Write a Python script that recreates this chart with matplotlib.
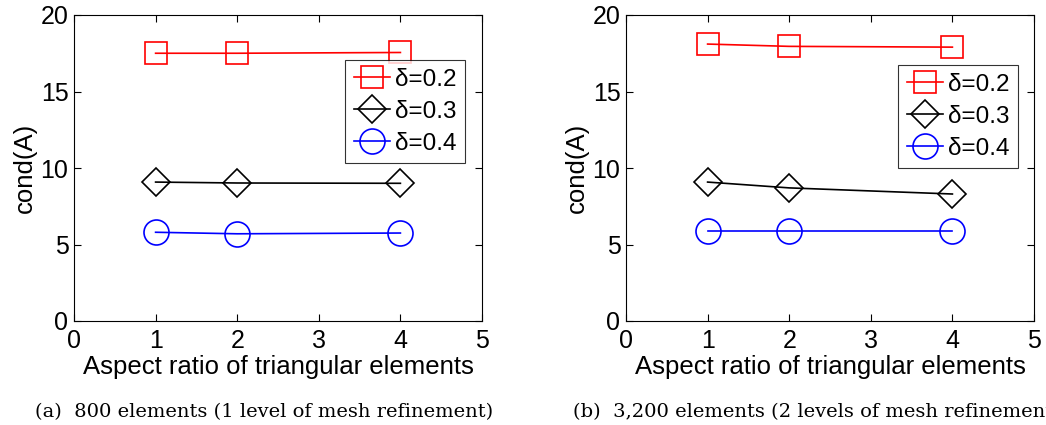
import numpy as np
import matplotlib.pyplot as plt

# data
aspect = [1, 2, 4]
labels = ['δ=0.2', 'δ=0.3', 'δ=0.4']

cond_a = {
    'δ=0.2': [17.5, 17.5, 17.55],
    'δ=0.3': [9.08, 9.02, 9.0],
    'δ=0.4': [5.8, 5.7, 5.75],
}
cond_b = {
    'δ=0.2': [18.1, 17.95, 17.9],
    'δ=0.3': [9.08, 8.7, 8.3],
    'δ=0.4': [5.9, 5.9, 5.9],
}
captions = ['(a)  800 elements (1 level of mesh refinement)',
            '(b)  3,200 elements (2 levels of mesh refinement)']

styles = {
    'δ=0.2': dict(color='#ff0000', marker='s', ms=16),
    'δ=0.3': dict(color='black', marker='D', ms=14),
    'δ=0.4': dict(color='#0000ff', marker='o', ms=18),
}

plt.rcParams['font.family'] = ['Liberation Sans', 'DejaVu Sans']

fig = plt.figure(figsize=(10.46, 4.25), dpi=100)
W, H = 1046, 425

def add_panel(left_px, data, legend_box, caption, cap_x):
    ax = fig.add_axes([left_px / W, 1 - 321 / H, 408 / W, 306 / H])
    for lab in labels:
        st = styles[lab]
        ax.plot(aspect, data[lab], color=st['color'], marker=st['marker'],
                ms=st['ms'], mfc='none', mec=st['color'], mew=1.2, lw=1.2,
                label=lab)
    ax.set_xlim(0, 5)
    ax.set_ylim(0, 20)
    ax.set_xticks(range(6))
    ax.set_yticks([0, 5, 10, 15, 20])
    ax.tick_params(direction='in', length=5, width=0.8, top=True, right=True,
                   labelsize=18, pad=4)
    ax.tick_params(axis='x', pad=6)
    for s in ax.spines.values():
        s.set_linewidth(0.8)
    ax.set_xlabel('Aspect ratio of triangular elements', fontsize=18.5, labelpad=1)
    ax.set_ylabel('cond(A)', fontsize=18.5, labelpad=3)
    x0, y0, x1, y1 = legend_box
    leg = ax.legend(loc='upper left',
                    bbox_to_anchor=((x0 - left_px) / 408, (321 - y0) / 306),
                    fontsize=17.5, frameon=True, fancybox=False,
                    edgecolor='black', handlelength=1.5, handletextpad=0.2,
                    borderpad=0.35, labelspacing=0.42, borderaxespad=0,
                    markerscale=1.0)
    leg.get_frame().set_linewidth(0.8)
    fig.text(cap_x / W, 1 - 412 / H, caption, fontsize=14,
             family='DejaVu Serif', ha='left', va='center')
    return ax

add_panel(74, cond_a, (345, 60, 463, 168), captions[0], 35)
add_panel(626, cond_b, (898, 65, 1017, 173), captions[1], 573)

fig.savefig('out.png', dpi=100)
